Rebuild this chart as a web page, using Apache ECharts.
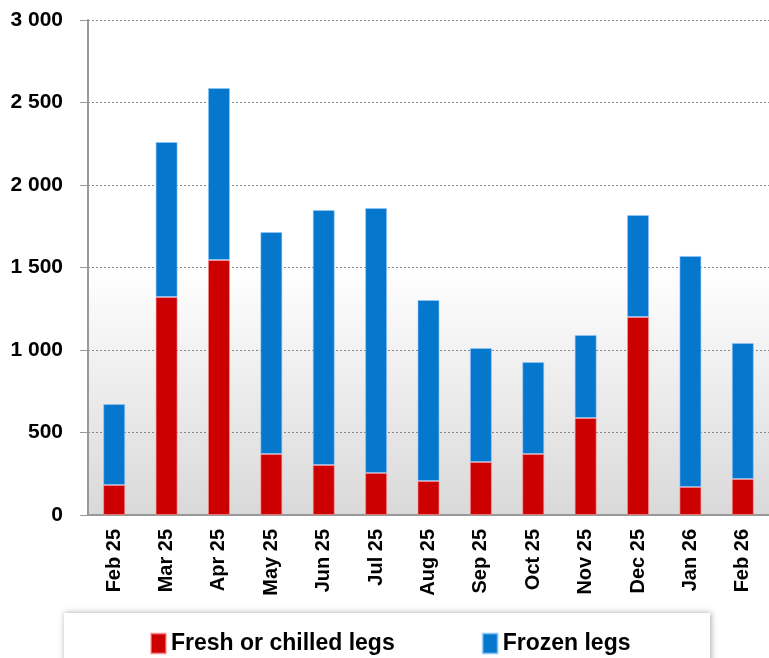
<!DOCTYPE html>
<html><head><meta charset="utf-8">
<script src="https://cdn.jsdelivr.net/npm/echarts@6/dist/echarts.min.js"></script>
<style>html,body{margin:0;padding:0;background:#fff}#c{width:769px;height:658px}</style>
</head><body><div id="c"></div>
<script>
const categories = ["Feb 25","Mar 25","Apr 25","May 25","Jun 25","Jul 25","Aug 25","Sep 25","Oct 25","Nov 25","Dec 25","Jan 26","Feb 26"];
const freshValues = [182,1321,1545,370,303,255,206,321,370,588,1200,170,218];
const frozenValues = [491,940,1043,1345,1545,1606,1097,691,557,503,618,1400,824];
const yTicks = [0,500,1000,1500,2000,2500,3000];
const seriesNames = ["Fresh or chilled legs","Frozen legs"];

const fmt = v => String(v).replace(/\B(?=(\d{3})+(?!\d))/g, ' ');
const chart = echarts.init(document.getElementById('c'));
const font = '"Liberation Sans", Arial, sans-serif';
chart.setOption({
  animation: false,
  graphic: [{
    type: 'rect', left: 64, top: 613, shape: {width: 646, height: 60},
    style: {fill: '#fff', shadowBlur: 6, shadowColor: 'rgba(0,0,0,0.35)', shadowOffsetX: 1, shadowOffsetY: 0},
    z: 0
  }],
  grid: {left: 88, top: 20, width: 688, bottom: 143,
    show: true, borderWidth: 0,
    backgroundColor: new echarts.graphic.LinearGradient(0, 0, 0, 1, [
      {offset: 0, color: '#ffffff'}, {offset: 0.5, color: '#ffffff'}, {offset: 1, color: '#d9d9d9'}])
  },
  legend: {
    top: 627, left: 145, itemGap: 87, itemWidth: 15, itemHeight: 20,
    icon: 'rect', data: seriesNames,
    textStyle: {fontFamily: font, fontWeight: 'bold', fontSize: 23, color: '#000'}
  },
  xAxis: {
    type: 'category', data: categories,
    axisLine: {lineStyle: {color: '#999', width: 2}},
    axisTick: {show: false},
    axisLabel: {rotate: 90, margin: 14, fontFamily: font, fontWeight: 'bold', fontSize: 20, color: '#000'}
  },
  yAxis: {
    type: 'value', min: yTicks[0], max: yTicks[yTicks.length - 1], interval: 500,
    axisLine: {show: true, lineStyle: {color: '#999', width: 2}},
    axisTick: {show: true, length: 8, lineStyle: {color: '#999'}},
    splitLine: {lineStyle: {color: '#888', type: [2, 2], width: 1}},
    axisLabel: {margin: 25, formatter: fmt, fontFamily: font, fontWeight: 'bold', fontSize: 21, color: '#000'}
  },
  series: [
    {name: seriesNames[0], type: 'bar', stack: 'a', data: freshValues, barWidth: 22,
     itemStyle: {color: '#cc0000', borderColor: 'rgba(255,150,150,0.6)', borderWidth: 1}},
    {name: seriesNames[1], type: 'bar', stack: 'a', data: frozenValues, barWidth: 22,
     itemStyle: {color: '#0577cc', borderColor: 'rgba(150,200,255,0.6)', borderWidth: 1}}
  ]
});
</script></body></html>
